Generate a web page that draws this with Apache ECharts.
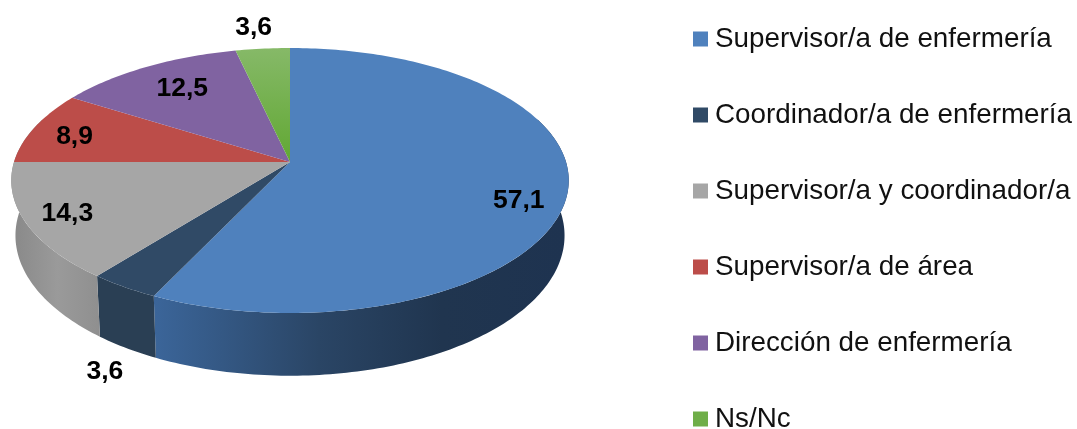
<!DOCTYPE html>
<html>
<head>
<meta charset="utf-8">
<style>html,body{margin:0;padding:0;background:#fff}#c{width:1077px;height:429px}</style>
<script src="https://cdn.jsdelivr.net/npm/echarts@6/dist/echarts.min.js"></script>
</head>
<body>
<div id="c"></div>
<script>
var categories = ['Supervisor/a de enfermería','Coordinador/a de enfermería','Supervisor/a y coordinador/a','Supervisor/a de área','Dirección de enfermería','Ns/Nc'];
var values = [57.1,3.6,14.3,8.9,12.5,3.6];
var valueLabels = ['57,1','3,6','14,3','8,9','12,5','3,6'];

var topColors = ['#4F81BD','#304A66','#A6A6A6','#BC4D49','#8063A1',null];
var wallStops = [
  [[0,'#3B6599'],[0.4,'#2A4565'],[0.7,'#20354F'],[1,'#1E3350']],
  [[0,'#2A3F54'],[1,'#2A3F54']],
  [[0,'#8A8A8A'],[0.5,'#9A9A9A'],[1,'#8F8F8F']],
  null,null,null
];
var labelOffsets = [[-49,9],[-19,85],[42,-8],[40,9.5],[36,22],[-9,-21]];

var pie = {cx:290, cy:162, rx:276, ry:129.9, k:0.1395, depth:54, bottomScale:0.985, wallFrom:70, wallTo:290};
var total = values.reduce(function(a,b){return a+b;},0);

function project(deg, bottom){
  var t = deg*Math.PI/180, u = Math.sin(t), v = -Math.cos(t);
  var s = 1/(1-pie.k*v);
  var rx = bottom ? pie.rx*pie.bottomScale : pie.rx;
  return [pie.cx+rx*u*s, pie.cy+pie.ry*v*s+(bottom?pie.depth*s:0)];
}
function arc(a,b,bottom){
  var pts=[], n=Math.max(2,Math.ceil(Math.abs(b-a)));
  for(var i=0;i<=n;i++) pts.push(project(a+(b-a)*i/n,bottom));
  return pts;
}
function gradient(x1,x2,stops){
  return {type:'linear',x:x1,y:0,x2:x2,y2:0,global:true,
    colorStops:stops.map(function(s){return {offset:s[0],color:s[1]};})};
}

var greenFill = {type:'linear',x:0,y:48,x2:0,y2:160,global:true,
  colorStops:[{offset:0,color:'#86B968'},{offset:1,color:'#62A834'}]};

function makeRender(idx){
  return function(params, api){
    var val = api.value(0);
    var before = 0;
    for(var i=0;i<idx;i++) before += values[i];
    var a = before/total*360, b = (before+val)/total*360;
    var children = [];
    var wa = Math.max(a,pie.wallFrom);
    var wb = (a<270 && b>=270-0.01) ? pie.wallTo : b;
    if(wallStops[idx]){
      var t = arc(wa,wb,false), l = arc(wa,wb,true).reverse();
      var pts = t.concat(l);
      var xs = l.map(function(p){return p[0];});
      var x1 = Math.min.apply(null,xs), x2 = Math.max.apply(null,xs);
      children.push({type:'polygon',z2:1,shape:{points:pts},style:{fill:gradient(x1,x2,wallStops[idx])}});
    }
    var fill = topColors[idx] || greenFill;
    children.push({type:'polygon',z2:10,shape:{points:[[pie.cx,pie.cy]].concat(arc(a,b,false))},style:{fill:fill}});
    var m = project((a+b)/2,false), off = labelOffsets[idx];
    children.push({type:'text',z2:20,x:m[0]+off[0],y:m[1]+off[1],
      style:{text:valueLabels[idx],fill:'#000',font:'bold 26.5px "Liberation Sans", Arial, sans-serif',align:'center',verticalAlign:'middle'}});
    return {type:'group',children:children};
  };
}

var series = categories.map(function(name,i){
  var c = topColors[i] || '#6FAE48';
  return {type:'custom',name:name,coordinateSystem:'none',animation:false,silent:true,
    itemStyle:{color:c},encode:{value:0},data:[[values[i]]],renderItem:makeRender(i),clip:false};
});

var chart = echarts.init(document.getElementById('c'),null,{renderer:'canvas'});
chart.setOption({
  animation:false,
  backgroundColor:'#fff',
  legend:{orient:'vertical',left:693,top:25,height:440,itemWidth:15,itemHeight:15,itemGap:48,icon:'rect',padding:0,
    selectedMode:false,data:categories,
    textStyle:{color:'#111',fontFamily:'"Liberation Sans", Arial, sans-serif',fontSize:27.8,padding:[0,0,0,2]},
    itemStyle:{borderWidth:0}},
  series:series
});
</script>
</body>
</html>
